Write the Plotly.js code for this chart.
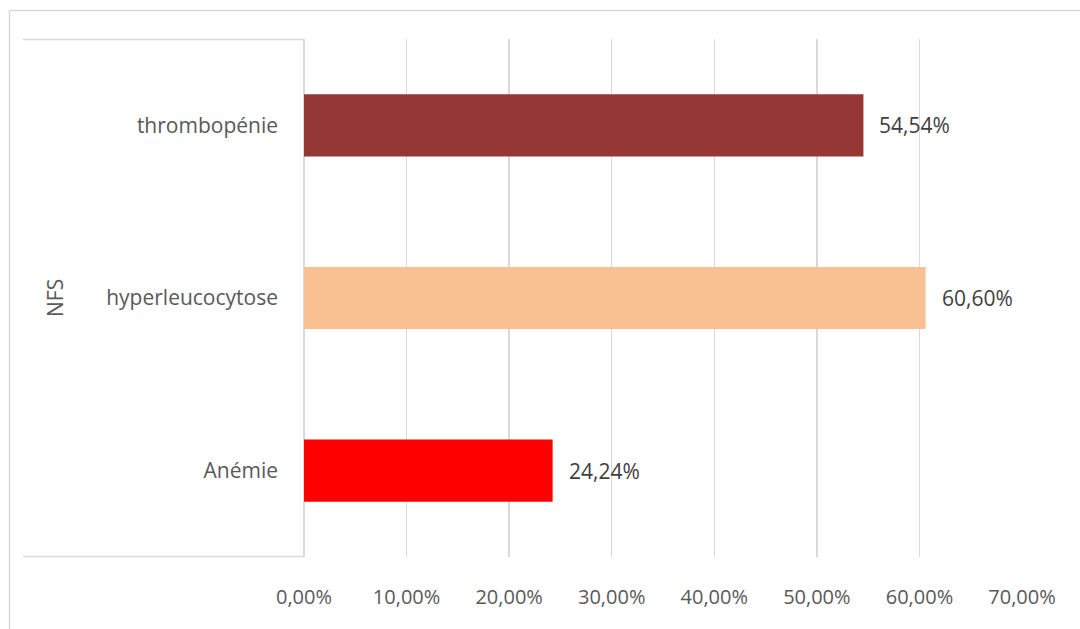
<!DOCTYPE html>
<html>
<head>
<meta charset="utf-8">
<script src="https://cdn.plot.ly/plotly-3.0.1.min.js"></script>
<style>
html,body{margin:0;padding:0;background:#fff;}
#chart{width:1080px;height:629px;}
</style>
</head>
<body>
<div id="chart"></div>
<script>
var categories = ["Anémie", "hyperleucocytose", "thrombopénie"];
var values = [0.2424, 0.6060, 0.5454];
var barColors = ["#FF0000", "#F9C191", "#953735"];
var groupLabel = "NFS";
var tickValues = [0, 0.1, 0.2, 0.3, 0.4, 0.5, 0.6, 0.7];

var W = 1080, H = 629;
var L = 304, R = 1022, T = 39, B = 557;
function px(x){ return (x - L) / (R - L); }
function py(y){ return (B - y) / (B - T); }

var font = "Open Sans, Liberation Sans, sans-serif";

var trace = {
  type: "bar",
  orientation: "h",
  y: categories,
  x: values,
  marker: {color: barColors},
  width: 0.36,
  hoverinfo: "none"
};

function fmt(v){
  return (v * 100).toFixed(2).replace(".", ",") + "%";
}
var annotations = categories.map(function(c, i){
  return {
    x: values[i], y: c, xref: "x", yref: "y",
    text: fmt(values[i]),
    showarrow: false, xanchor: "left", yanchor: "middle",
    xshift: 14,
    font: {family: font, size: 21, color: "#404040"}
  };
});
annotations.push({
  x: px(55), y: 0.5, xref: "paper", yref: "paper",
  text: groupLabel, showarrow: false, textangle: -90,
  xanchor: "center", yanchor: "middle",
  font: {family: font, size: 21, color: "#595959"}
});

var lineCol = "#D9D9D9";
var shapes = [
  {type: "line", xref: "paper", yref: "paper", x0: px(9.5), x1: px(1090), y0: py(10.5), y1: py(10.5), line: {color: lineCol, width: 1.5}},
  {type: "line", xref: "paper", yref: "paper", x0: px(9.5), x1: px(9.5), y0: py(10.5), y1: py(640), line: {color: lineCol, width: 1.5}},
  {type: "line", xref: "paper", yref: "paper", x0: px(23), x1: px(304), y0: py(39.5), y1: py(39.5), line: {color: lineCol, width: 1.5}},
  {type: "line", xref: "paper", yref: "paper", x0: px(23), x1: px(304), y0: py(556.5), y1: py(556.5), line: {color: lineCol, width: 1.5}}
];

var layout = {
  width: W, height: H,
  margin: {l: L, r: W - R, t: T, b: H - B, pad: 0},
  paper_bgcolor: "#ffffff",
  plot_bgcolor: "#ffffff",
  separators: ",.",
  showlegend: false,
  xaxis: {
    range: [0, 0.7],
    tickvals: tickValues,
    tickformat: ".2%",
    showgrid: true, gridcolor: lineCol, gridwidth: 1.5,
    zeroline: true, zerolinecolor: lineCol, zerolinewidth: 1.5,
    showline: false,
    ticks: "",
    ticklabelstandoff: 26,
    tickfont: {family: font, size: 20, color: "#595959"},
    fixedrange: true
  },
  yaxis: {
    type: "category",
    categoryorder: "array", categoryarray: categories,
    showgrid: false, zeroline: false, showline: false,
    ticks: "",
    ticklabelstandoff: 25,
    tickfont: {family: font, size: 21, color: "#595959"},
    fixedrange: true
  },
  shapes: shapes,
  annotations: annotations
};

Plotly.newPlot("chart", [trace], layout, {displayModeBar: false, staticPlot: true});
</script>
</body>
</html>
